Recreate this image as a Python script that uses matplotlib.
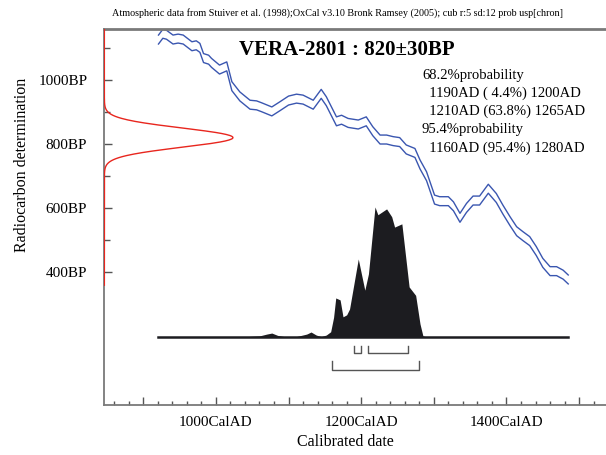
import numpy as np
import matplotlib.pyplot as plt
from matplotlib.ticker import FixedLocator, FuncFormatter

plt.rcParams['font.family'] = ['Liberation Serif', 'DejaVu Serif']

# measurement
LAB_ID = "VERA-2801"
C14_AGE = 820
C14_ERR = 30

# calibration curve (cal AD, BP centre), +/- CURVE_ERR
curve_year = [921, 927, 932, 941, 948, 955, 967, 973, 978, 983, 990, 994,
              1005, 1015, 1022, 1033, 1047, 1056, 1063, 1077, 1088, 1100,
              1111, 1120, 1134, 1145, 1152, 1166, 1173, 1182, 1196, 1207,
              1216, 1226, 1235, 1244, 1253, 1262, 1274, 1281, 1290, 1301,
              1308, 1320, 1327, 1336, 1345, 1354, 1363, 1375, 1386, 1395,
              1405, 1414, 1423, 1432, 1441, 1450, 1460, 1469, 1478, 1485]
curve_bp = [1127, 1145, 1142, 1127, 1130, 1127, 1106, 1109, 1101, 1069, 1064, 1054,
            1033, 1043, 981, 949, 923, 921, 915, 902, 918, 936,
            942, 939, 923, 957, 934, 871, 876, 866, 861, 871,
            840, 814, 814, 809, 806, 783, 772, 736, 699, 626,
            621, 621, 605, 569, 600, 623, 623, 660, 631, 595,
            558, 527, 511, 496, 465, 428, 402, 402, 391, 376]
CURVE_ERR = 14

# calibrated probability (relative height)
prob_year = [921, 1040, 1060, 1070, 1077, 1085, 1095, 1110, 1125, 1131, 1138,
             1145, 1152, 1158, 1162, 1165, 1171, 1175, 1180, 1184, 1196, 1205,
             1210, 1219, 1223, 1235, 1242, 1246, 1256, 1266, 1275, 1281, 1285,
             1290, 1485]
prob_val = [0, 0.002, 0.008, 0.022, 0.03, 0.012, 0.002, 0.002, 0.022, 0.038, 0.015,
            0.002, 0.015, 0.04, 0.15, 0.30, 0.285, 0.155, 0.17, 0.215, 0.60, 0.36,
            0.485, 1.0, 0.94, 0.985, 0.925, 0.845, 0.87, 0.385, 0.32, 0.10, 0.008,
            0, 0]

# ranges
range68 = [(1190, 1200), (1210, 1265)]
range95 = [(1160, 1280)]
range_text = ["68.2%probability",
              "  1190AD ( 4.4%) 1200AD",
              "  1210AD (63.8%) 1265AD",
              "95.4%probability",
              "  1160AD (95.4%) 1280AD"]

HEADER = ("Atmospheric data from Stuiver et al. (1998);OxCal v3.10 Bronk Ramsey (2005); "
          "cub r:5 sd:12 prob usp[chron]")

XMIN, XMAX = 846, 1537
YMIN, YMAX = -17, 1160
PROB_BASE = 196  # BP level of the distribution baseline
PROB_SCALE = 407

fig = plt.figure(figsize=(6.06, 4.55), dpi=100)
ax = fig.add_axes([104 / 606, 50 / 455, 502 / 606, 376 / 455])
ax.set_xlim(XMIN, XMAX)
ax.set_ylim(YMIN, YMAX)

# radiocarbon gaussian on the y axis
bp = np.linspace(358, 1300, 600)
pdf = np.exp(-0.5 * ((bp - C14_AGE) / C14_ERR) ** 2)
ax.plot(XMIN + 0.5 + 177 * pdf, bp, color='#e8261e', lw=1.0, zorder=3)

# calibration curve
cy = np.array(curve_year)
cb = np.array(curve_bp)
ax.plot(cy, cb + CURVE_ERR, color='#3a56b0', lw=1.0)
ax.plot(cy, cb - CURVE_ERR, color='#3a56b0', lw=1.0)

# calibrated distribution
py = np.array(prob_year)
pv = np.array(prob_val)
ax.fill_between(py, PROB_BASE, PROB_BASE + PROB_SCALE * pv, color='#1c1c20', lw=0)
ax.plot([curve_year[0], curve_year[-1]], [PROB_BASE, PROB_BASE], color='#1c1c20', lw=1.8)

# range brackets
def bracket(a, b, lvl, h):
    ax.plot([a, a, b, b], [lvl + h, lvl, lvl, lvl + h], color='#555555', lw=1.0)

for a, b in range68:
    bracket(a, b, 146, 22)
for a, b in range95:
    bracket(a, b, 94, 26)

# axes style
ax.spines['right'].set_visible(False)
for s in ['left', 'top', 'bottom']:
    ax.spines[s].set_color('#7a7a7a')
ax.spines['top'].set_linewidth(2.0)
ax.spines['left'].set_linewidth(1.3)
ax.spines['bottom'].set_linewidth(1.3)

ax.xaxis.set_major_locator(FixedLocator(range(900, 1501, 100)))
ax.xaxis.set_minor_locator(FixedLocator(range(860, 1531, 20)))
ax.xaxis.set_major_formatter(FuncFormatter(lambda v, p: f"{int(v)}CalAD" if int(v) % 200 == 0 else ""))
ax.yaxis.set_major_locator(FixedLocator([400, 600, 800, 1000]))
ax.yaxis.set_minor_locator(FixedLocator([500, 700, 900, 1100]))
ax.yaxis.set_major_formatter(FuncFormatter(lambda v, p: f"{int(v)}BP"))
ax.tick_params(which='both', direction='in', color='#555555', width=1.0)
ax.tick_params(which='major', length=6)
ax.tick_params(which='minor', length=3)
ax.tick_params(axis='y', which='major', pad=12, labelsize=11)
ax.tick_params(axis='x', which='major', pad=8, labelsize=11)
ax.tick_params(axis='y', which='minor', length=4)

fig.text(22 / 606, 1 - 165 / 455, "Radiocarbon determination", rotation=90,
         ha='center', va='center', fontsize=11.5)
fig.text(345 / 606, 1 - 442 / 455, "Calibrated date", ha='center', va='center', fontsize=11.5)
fig.text(337 / 606, 1 - 13 / 455, HEADER, ha='center', va='center', fontsize=7.3)
fig.text(347 / 606, 1 - 50 / 455, f"{LAB_ID} : {C14_AGE}\u00b1{C14_ERR}BP", ha='center',
         va='center', fontsize=15, fontweight='bold')

for i, t in enumerate(range_text):
    fig.text(422 / 606, 1 - (75 + 18.3 * i) / 455, t, ha='left', va='center', fontsize=10.5)

fig.savefig("out.png", dpi=100)
